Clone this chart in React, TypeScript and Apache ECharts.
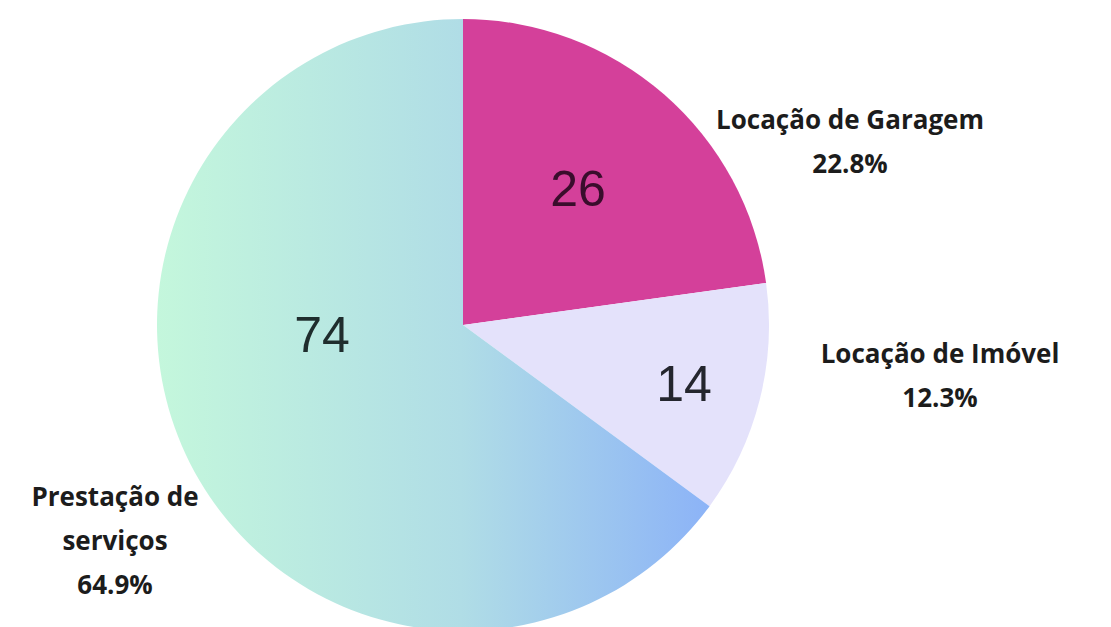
import React, { useEffect, useRef } from "react";
import * as echarts from "echarts";

const categories = ["Locação de Garagem", "Locação de Imóvel", "Prestação de serviços"];
const outerLabelText = ["Locação de Garagem", "Locação de Imóvel", "Prestação de\nserviços"];
const values = [26, 14, 74];

const sliceColors: any[] = [
  "#d4409a",
  "#e4e2fb",
  {
    type: "linear",
    x: 0,
    y: 0,
    x2: 1,
    y2: 0,
    colorStops: [
      { offset: 0, color: "#c4f7dc" },
      { offset: 0.55, color: "#b0dde6" },
      { offset: 1, color: "#8cb3f7" },
    ],
  },
];
const valueLabelColors = ["#3a0d2c", "#24262e", "#1f2d2d"];

// label anchor positions (px)
const valueLabelPos = [
  [578, 189],
  [684, 384],
  [322, 335],
];
const outerLabelPos = [
  [850, 141],
  [940, 375],
  [115, 540],
];

export default function App() {
  const ref = useRef<HTMLDivElement>(null);
  useEffect(() => {
    if (!ref.current) return;
    const chart = echarts.init(ref.current, undefined, { renderer: "svg" });
    const data = categories.map((name, i) => ({
      name,
      value: values[i],
      itemStyle: { color: sliceColors[i] },
      label: { color: valueLabelColors[i] },
    }));
    chart.setOption({
      animation: false,
      backgroundColor: "#ffffff",
      series: [
        {
          type: "pie",
          center: [463, 325],
          radius: 306,
          startAngle: 90,
          clockwise: true,
          silent: true,
          data,
          itemStyle: { borderWidth: 0 },
          label: {
            show: true,
            position: "inside",
            formatter: "{c}",
            fontFamily: "Liberation Sans, Arial, sans-serif",
            fontSize: 50,
            fontWeight: "normal",
          },
          labelLine: { show: false },
          labelLayout: (p: any) => ({
            x: valueLabelPos[p.dataIndex][0],
            y: valueLabelPos[p.dataIndex][1],
            align: "center",
            verticalAlign: "middle",
          }),
        },
        {
          type: "pie",
          center: [463, 325],
          radius: 306,
          startAngle: 90,
          clockwise: true,
          silent: true,
          percentPrecision: 1,
          data: categories.map((name, i) => ({
            name,
            value: values[i],
            itemStyle: { color: "rgba(0,0,0,0)" },
          })),
          label: {
            show: true,
            position: "outside",
            overflow: "none",
            formatter: (p: any) => `${outerLabelText[p.dataIndex]}\n${p.percent.toFixed(1)}%`,
            fontFamily: "Open Sans, Noto Sans, sans-serif",
            fontSize: 26,
            fontWeight: "bold",
            lineHeight: 44,
            align: "center",
            color: "#1c1c1c",
          },
          labelLine: { show: false },
          labelLayout: (p: any) => ({
            x: outerLabelPos[p.dataIndex][0],
            y: outerLabelPos[p.dataIndex][1],
            align: "center",
            verticalAlign: "middle",
          }),
        },
      ],
    });
    return () => chart.dispose();
  }, []);
  return (
    <div
      ref={ref}
      style={{ position: "absolute", left: 0, top: 0, width: 1111, height: 627 }}
    />
  );
}
